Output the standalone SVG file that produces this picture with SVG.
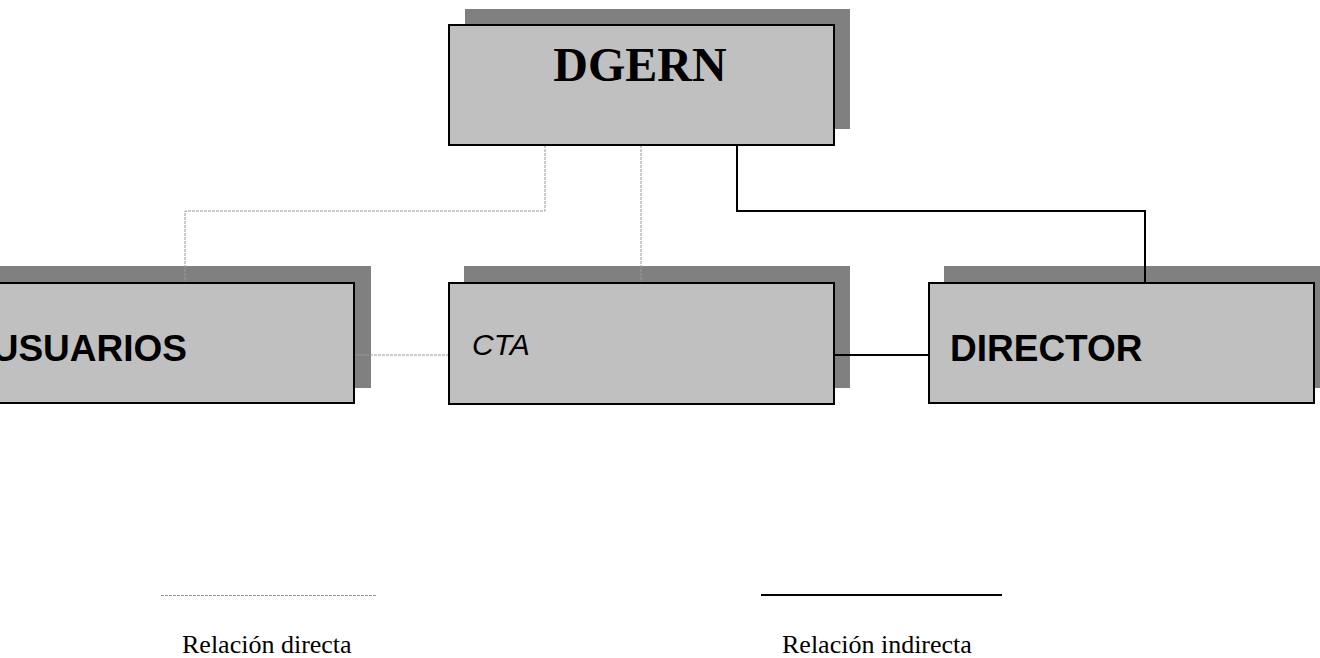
<svg xmlns="http://www.w3.org/2000/svg" width="1320" height="658" viewBox="0 0 1320 658">
<style>
.shadow{fill:#808080;}
.box{fill:#c0c0c0;stroke:#000;stroke-width:2;}
.direct{fill:none;stroke:#999;stroke-width:1;stroke-dasharray:3 1;}
.indirect{fill:none;stroke:#000;stroke-width:2;}
.sans{font-family:"Liberation Sans",Arial,sans-serif;fill:#000;}
.serif{font-family:"Liberation Serif","Times New Roman",serif;fill:#000;}
</style>
<rect width="1320" height="658" fill="#fff"/>
<g id="shadows">
<rect class="shadow" x="465" y="9" width="385" height="120"/>
<rect class="shadow" x="-14" y="266" width="385" height="122"/>
<rect class="shadow" x="464" y="266" width="386" height="122"/>
<rect class="shadow" x="944" y="266" width="385" height="122"/>
</g>
<g id="connectors">
<polyline class="direct" points="545,145 545,211 185,211 185,283"/>
<line class="direct" x1="641" y1="145" x2="641" y2="283"/>
<polyline class="indirect" points="737,145 737,211 1145,211 1145,283"/>
<line class="direct" x1="354" y1="355" x2="448" y2="355"/>
<line class="indirect" x1="834" y1="355" x2="929" y2="355" stroke-width="1.3"/>
</g>
<g id="dgern">
<rect class="box" x="449" y="25" width="385" height="120"/>
<text class="serif" x="640" y="81" font-size="48" font-weight="bold" text-anchor="middle">DGERN</text>
</g>
<g id="usuarios">
<rect class="box" x="-30" y="283" width="384" height="120"/>
<text class="sans" x="187" y="361" font-size="37" font-weight="bold" text-anchor="end">USUARIOS</text>
</g>
<g id="cta">
<rect class="box" x="449" y="283" width="385" height="121"/>
<text class="sans" x="472" y="355" font-size="30" font-style="italic">CTA</text>
</g>
<g id="director">
<rect class="box" x="929" y="283" width="385" height="120"/>
<text class="sans" x="950" y="361" font-size="37" font-weight="bold">DIRECTOR</text>
</g>
<g id="legend">
<line class="direct" x1="161" y1="595.5" x2="377" y2="595.5"/>
<text class="serif" x="182" y="653" font-size="26">Relación directa</text>
<line class="indirect" x1="761" y1="595" x2="1002" y2="595"/>
<text class="serif" x="782" y="653" font-size="26">Relación indirecta</text>
</g>
</svg>
